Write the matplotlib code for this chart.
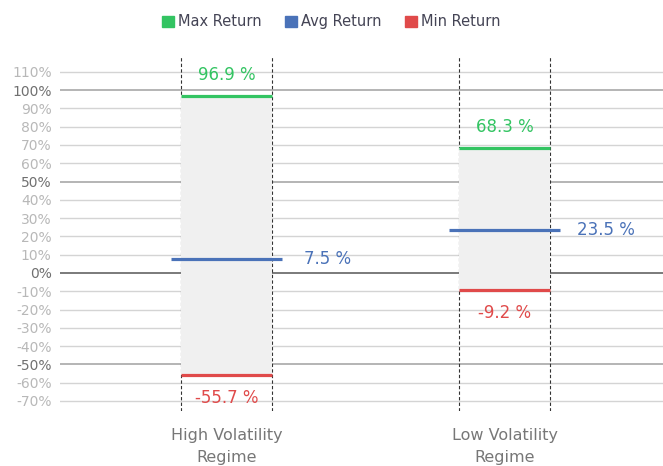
import matplotlib
matplotlib.use("Agg")
import matplotlib.pyplot as plt
from matplotlib.patches import Patch

plt.rcParams["font.family"] = ["DejaVu Sans"]

categories = ["High Volatility\nRegime", "Low Volatility\nRegime"]
max_ret = [96.9, 68.3]
avg_ret = [7.5, 23.5]
min_ret = [-55.7, -9.2]
yticks = list(range(-70, 111, 10))

GREEN = "#33c462"
BLUE = "#4a72b8"
RED = "#e04a4a"

fig = plt.figure(figsize=(6.63, 4.66), dpi=100)
ax = fig.add_axes([0.0905, 0.118, 0.9095, 0.760])
ax.set_ylim(-75.5, 118.2)
ax.set_xlim(-0.599, 1.570)

for v in yticks:
    if v == 0:
        c, lw = "#707070", 1.3
    elif v % 50 == 0:
        c, lw = "#a8a8a8", 1.2
    else:
        c, lw = "#d4d4d4", 1.0
    ax.axhline(v, color=c, lw=lw, zorder=1)

bw = 0.164
aw = 0.2
for i in range(len(categories)):
    for xx in (i - bw, i + bw):
        ax.axvline(xx, color="#333333", lw=0.8, ls=(0, (3, 2)), zorder=2)
    ax.fill_between([i - bw, i + bw], min_ret[i], max_ret[i], color="#f0f0f0", zorder=3, lw=0)
    ax.plot([i - bw, i + bw], [max_ret[i]] * 2, color=GREEN, lw=2.3, zorder=4, solid_capstyle="butt")
    ax.plot([i - bw, i + bw], [min_ret[i]] * 2, color=RED, lw=2.3, zorder=4, solid_capstyle="butt")
    ax.plot([i - aw, i + aw], [avg_ret[i]] * 2, color=BLUE, lw=2.3, zorder=4, solid_capstyle="butt")
    ax.text(i, max_ret[i] + 11.5, f"{max_ret[i]} %", color=GREEN, fontsize=12, ha="center", va="center", zorder=5)
    ax.text(i, min_ret[i] - 12.5, f"{min_ret[i]} %", color=RED, fontsize=12, ha="center", va="center", zorder=5)
    ax.text(i + 0.365, avg_ret[i], f"{avg_ret[i]} %", color=BLUE, fontsize=12, ha="center", va="center", zorder=5)

ax.set_yticks(yticks)
ax.set_yticklabels([f"{v}%" for v in yticks])
for lbl, v in zip(ax.get_yticklabels(), yticks):
    lbl.set_color("#707070" if v % 50 == 0 else "#b8b8b8")
    lbl.set_fontsize(10)
ax.tick_params(axis="y", length=0, pad=6)

ax.set_xticks(range(len(categories)))
ax.set_xticklabels(categories, fontsize=11.5, color="#777777", linespacing=1.6)
ax.tick_params(axis="x", length=0, pad=12)

for s in ax.spines.values():
    s.set_visible(False)

handles = [Patch(color=GREEN, label="Max Return"),
           Patch(color=BLUE, label="Avg Return"),
           Patch(color=RED, label="Min Return")]
leg = fig.legend(handles=handles, loc="center", bbox_to_anchor=(0.5, 0.953), ncol=3,
                 frameon=False, fontsize=10.5, handlelength=0.8, handleheight=0.8,
                 handletextpad=0.3, columnspacing=1.6)
for t in leg.get_texts():
    t.set_color("#444455")

fig.savefig("out.png", dpi=100)
